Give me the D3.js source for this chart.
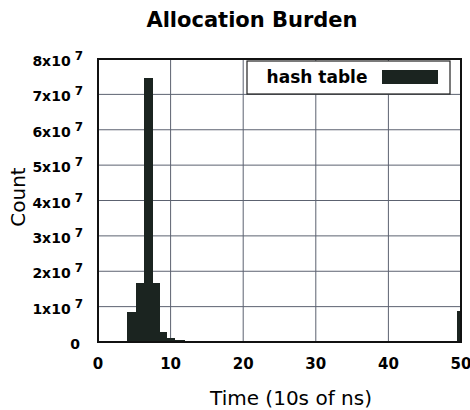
<!DOCTYPE html>
<html>
<head>
<meta charset="utf-8">
<script src="https://cdn.jsdelivr.net/npm/d3@7"></script>
<style>
  body { margin: 0; background: #fff; }
  svg { display: block; font-family: "DejaVu Sans", sans-serif; }
</style>
</head>
<body>
<script>
// histogram bins (time in 10s of ns) and counts
const binStart = [4.0, 5.2, 6.3, 7.6, 8.6, 9.5, 10.6, 12.0, 49.4];
const binEnd   = [5.2, 6.3, 7.6, 8.6, 9.5, 10.6, 12.0, 13.5, 50.0];
const counts   = [0.86e7, 1.66e7, 7.45e7, 1.66e7, 0.29e7, 0.12e7, 0.05e7, 0.03e7, 0.88e7];
const xTicks = [0, 10, 20, 30, 40, 50];
const yTicks = [0, 1, 2, 3, 4, 5, 6, 7, 8];
const seriesName = "hash table";

const width = 470, height = 410;
const margin = {left: 98, right: 9, top: 59, bottom: 68};
const barColor = "#1b2420";

const svg = d3.select("body").append("svg")
    .attr("width", width).attr("height", height);

const x = d3.scaleLinear().domain([0, 50]).range([margin.left, width - margin.right]);
const y = d3.scaleLinear().domain([0, 8e7]).range([height - margin.bottom, margin.top]);

// title
svg.append("text")
   .attr("x", 252).attr("y", 27)
   .attr("text-anchor", "middle")
   .attr("font-weight", "bold")
   .attr("font-size", 21)
   .text("Allocation Burden");

// grid
const grid = svg.append("g").attr("stroke", "#5c6270").attr("stroke-width", 1);
grid.selectAll("line.gx").data(xTicks.slice(1, -1)).enter().append("line")
    .attr("x1", d => x(d)).attr("x2", d => x(d))
    .attr("y1", y(0)).attr("y2", y(8e7));
grid.selectAll("line.gy").data(yTicks.slice(1, -1)).enter().append("line")
    .attr("x1", x(0)).attr("x2", x(50))
    .attr("y1", d => y(d * 1e7)).attr("y2", d => y(d * 1e7));

// bars
svg.selectAll("rect.bar")
   .data(counts)
   .enter().append("rect")
   .attr("class", "bar")
   .attr("fill", barColor)
   .attr("shape-rendering", "crispEdges")
   .attr("x", (d, i) => x(binStart[i]))
   .attr("width", (d, i) => x(binEnd[i]) - x(binStart[i]))
   .attr("y", d => y(d))
   .attr("height", d => y(0) - y(d));

// frame
svg.append("rect")
   .attr("x", x(0)).attr("y", y(8e7))
   .attr("width", x(50) - x(0)).attr("height", y(0) - y(8e7))
   .attr("fill", "none").attr("stroke", "#111").attr("stroke-width", 2);

// x tick labels
svg.append("g").selectAll("text").data(xTicks).enter().append("text")
   .attr("x", d => x(d)).attr("y", 369)
   .attr("text-anchor", "middle")
   .attr("font-weight", "bold").attr("font-size", 15)
   .text(d => d);

// y tick labels with superscript exponent
const yl = svg.append("g").selectAll("text").data(yTicks).enter().append("text")
   .attr("x", d => d === 0 ? 80 : 83)
   .attr("y", d => y(d * 1e7) + 7)
   .attr("text-anchor", "end")
   .attr("font-weight", "bold").attr("font-size", 14);
yl.each(function(d) {
  const t = d3.select(this);
  if (d === 0) { t.text("0"); return; }
  t.append("tspan").text(d + "x10");
  t.append("tspan").attr("dx", 4).attr("dy", -6).attr("font-size", 12).text("7");
});

// axis titles
svg.append("text")
   .attr("transform", "translate(25,197) rotate(-90)")
   .attr("text-anchor", "middle")
   .attr("font-size", 20)
   .text("Count");
svg.append("text")
   .attr("x", 291).attr("y", 405)
   .attr("text-anchor", "middle")
   .attr("font-size", 20)
   .text("Time (10s of ns)");

// legend
const lg = svg.append("g");
lg.append("rect")
  .attr("x", 247).attr("y", 61).attr("width", 203).attr("height", 33)
  .attr("fill", "#fff").attr("stroke", "#222").attr("stroke-width", 1.2);
lg.append("text")
  .attr("x", 317).attr("y", 83)
  .attr("text-anchor", "middle")
  .attr("font-weight", "bold").attr("font-size", 17)
  .text(seriesName);
lg.append("rect")
  .attr("x", 382).attr("y", 70).attr("width", 56).attr("height", 14)
  .attr("fill", barColor);
</script>
</body>
</html>
